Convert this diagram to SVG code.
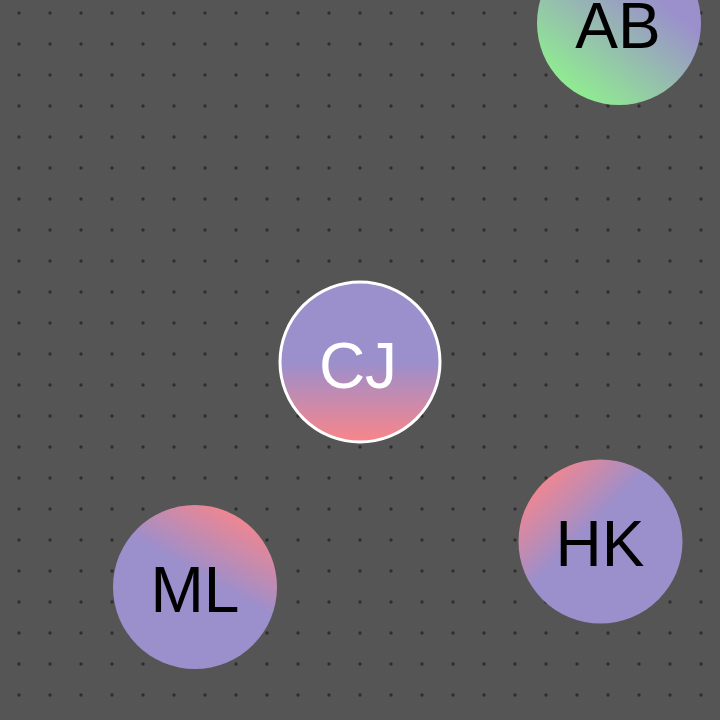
<svg xmlns="http://www.w3.org/2000/svg" width="720" height="720" viewBox="0 0 720 720">
<defs>
<pattern id="dots" x="19" y="13" width="31" height="31" patternUnits="userSpaceOnUse">
<circle cx="0" cy="0" r="1.7" fill="#2e2e2e"/><circle cx="31" cy="0" r="1.7" fill="#2e2e2e"/><circle cx="0" cy="31" r="1.7" fill="#2e2e2e"/><circle cx="31" cy="31" r="1.7" fill="#2e2e2e"/>
</pattern>
<linearGradient id="gCJ" x1="0" y1="0" x2="0" y2="1">
<stop offset="0.5" stop-color="#9b8fcc"/><stop offset="1" stop-color="#f9858a"/>
</linearGradient>
<linearGradient id="gAB" x1="0.2" y1="0.95" x2="0.85" y2="0.1">
<stop offset="0" stop-color="#8ff08e"/><stop offset="0.75" stop-color="#9b8fcc"/>
</linearGradient>
<linearGradient id="gML" x1="0.75" y1="0" x2="0.35" y2="0.7">
<stop offset="0" stop-color="#f9858a"/><stop offset="0.6" stop-color="#9b8fcc"/>
</linearGradient>
<linearGradient id="gHK" x1="0.1" y1="0.15" x2="0.5" y2="0.55">
<stop offset="0" stop-color="#f3868e"/><stop offset="0.75" stop-color="#9b8fcc"/>
</linearGradient>
</defs>
<style>
text{font-family:"Liberation Sans",Arial,sans-serif;font-size:64px;text-anchor:middle}
.dark{fill:#000}
.light{fill:#fff}
</style>
<rect width="720" height="720" fill="#555555"/>
<rect width="720" height="720" fill="url(#dots)"/>
<g id="connectors"></g>
<g id="node-AB">
<circle cx="619" cy="23" r="82" fill="url(#gAB)"/>
<text class="dark" x="618" y="48">AB</text>
</g>
<g id="node-CJ">
<circle cx="360" cy="362" r="80" fill="url(#gCJ)" stroke="#fff" stroke-width="3"/>
<text class="light" x="358" y="388">CJ</text>
</g>
<g id="node-ML">
<circle cx="195" cy="587" r="82" fill="url(#gML)"/>
<text class="dark" x="195" y="612">ML</text>
</g>
<g id="node-HK">
<circle cx="600.5" cy="541.5" r="82" fill="url(#gHK)"/>
<text class="dark" x="600" y="566">HK</text>
</g>
</svg>
